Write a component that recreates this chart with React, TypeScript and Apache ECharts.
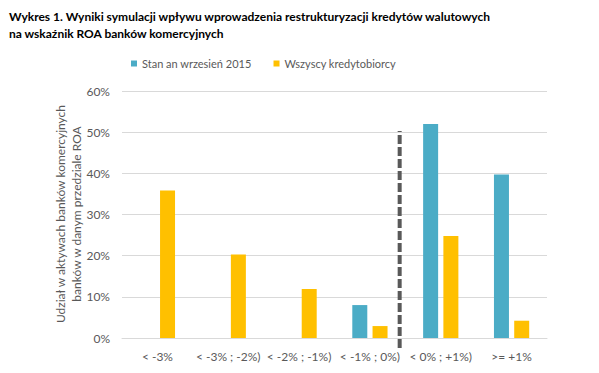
import React, { useEffect, useRef } from "react";
import * as echarts from "echarts";

const categories = ["< -3%", "< -3% ; -2%)", "< -2% ; -1%)", "< -1% ; 0%)", "< 0% ; +1%)", ">= +1%"];
const stanValues = [null, null, null, 8.0, 52.0, 39.7];
const wszyscyValues = [35.8, 20.3, 11.9, 2.9, 24.8, 4.2];
const seriesNames = ["Stan an wrzesień 2015", "Wszyscy kredytobiorcy"];
const yTicks = { min: 0, max: 60, interval: 10 };
const dividerX = 3.92; // in category units along the x axis
const dividerY = [-2.4, 50.3];
const titleLines = [
  "Wykres 1. Wyniki symulacji wpływu wprowadzenia restrukturyzacji kredytów walutowych",
  "na wskaźnik ROA banków komercyjnych",
];
const yAxisTitle = ["Udział w aktywach banków komercyjnych", "banków w danym przedziale ROA"];

const TEXT = "#595959";
const FONT = "Lato, sans-serif";

export default function App() {
  const ref = useRef<HTMLDivElement>(null);
  useEffect(() => {
    if (!ref.current) return;
    const chart = echarts.init(ref.current, null, { renderer: "svg" });
    chart.setOption({
      animation: false,
      textStyle: { fontFamily: FONT },
      title: {
        text: titleLines.join("\n"),
        left: 4,
        top: 3,
        textStyle: { fontFamily: FONT, fontWeight: "bold", fontSize: 12, color: "#000", lineHeight: 17 },
      },
      legend: {
        left: 126,
        top: 53,
        itemWidth: 6,
        itemHeight: 6,
        itemGap: 22,
        icon: "rect",
        textStyle: { color: TEXT, fontSize: 11, fontFamily: FONT },
        data: seriesNames,
      },
      grid: { left: 122, right: 52, top: 91, bottom: 35 },
      xAxis: [
        {
          type: "category",
          data: categories,
          axisLine: { lineStyle: { color: "#d9d9d9" } },
          axisTick: { show: false },
          axisLabel: { color: TEXT, fontSize: 12, margin: 12, interval: 0, fontFamily: FONT },
        },
        {
          type: "value",
          min: 0,
          max: categories.length,
          show: false,
        },
      ],
      yAxis: {
        type: "value",
        min: yTicks.min,
        max: yTicks.max,
        interval: yTicks.interval,
        axisLabel: { color: TEXT, fontSize: 12, margin: 12, formatter: "{value}%", fontFamily: FONT },
        splitLine: { lineStyle: { color: "#d9d9d9" } },
        axisLine: { show: false },
        axisTick: { show: false },
      },
      series: [
        {
          name: seriesNames[0],
          type: "bar",
          data: stanValues,
          barWidth: 15,
          barGap: "35%",
          itemStyle: { color: "#4bacc6" },
        },
        {
          name: seriesNames[1],
          type: "bar",
          data: wszyscyValues,
          barWidth: 15,
          barGap: "35%",
          itemStyle: { color: "#ffc000" },
        },
        {
          type: "line",
          xAxisIndex: 1,
          data: [
            [dividerX, dividerY[0]],
            [dividerX, dividerY[1]],
          ],
          clip: false,
          symbol: "none",
          silent: true,
          lineStyle: { color: "#595959", width: 4, type: [9, 3] },
        },
      ],
      graphic: [
        {
          type: "text",
          x: 68,
          y: 214,
          rotation: Math.PI / 2,
          style: {
            text: yAxisTitle.join("\n"),
            fill: TEXT,
            fontSize: 12,
            fontFamily: FONT,
            lineHeight: 16,
            align: "center",
            verticalAlign: "middle",
          },
        },
      ],
    });
    return () => chart.dispose();
  }, []);
  return <div ref={ref} style={{ position: "absolute", left: 0, top: 0, width: 599, height: 373 }} />;
}
